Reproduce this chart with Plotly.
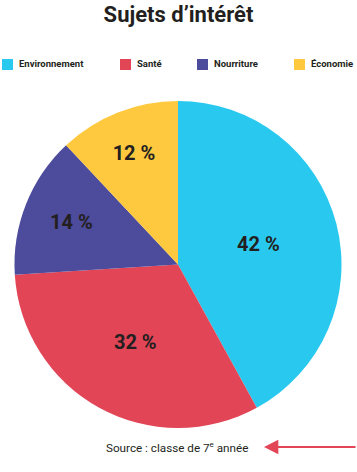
import plotly.graph_objects as go

categories = ["Environnement", "Santé", "Nourriture", "Économie"]
values = [42, 32, 14, 12]
colors = ["#29C9EF", "#E14556", "#4D4B9B", "#FFC93F"]
legend_x = [2, 120, 197, 294]

W, H = 357, 472

fig = go.Figure(go.Pie(
    labels=categories,
    values=values,
    sort=False,
    direction="clockwise",
    rotation=0,
    marker=dict(colors=colors, line=dict(width=0)),
    texttemplate="%{value} %",
    textposition="inside",
    insidetextorientation="horizontal",
    textfont=dict(family="Roboto", size=20, color="#231F20", weight="bold"),
    hoverinfo="label+value",
    showlegend=False,
    domain=dict(x=[14 / W, 342 / W], y=[44 / H, 371 / H]),
))

shapes = []
annotations = []
for cat, col, lx in zip(categories, colors, legend_x):
    shapes.append(dict(type="rect", xref="paper", yref="paper",
                       x0=lx / W, x1=(lx + 11) / W,
                       y0=(H - 70) / H, y1=(H - 59) / H,
                       fillcolor=col, line=dict(width=0)))
    annotations.append(dict(text=cat, xref="paper", yref="paper",
                            x=(lx + 15) / W, y=(H - 64) / H,
                            xanchor="left", yanchor="middle", showarrow=False,
                            font=dict(family="Roboto", size=9.5, color="#231F20", weight="bold")))

annotations.append(dict(text="Source : classe de 7<sup><span style='font-size:8px'>e</span></sup> année",
                        xref="paper", yref="paper",
                        x=177 / W, y=(H - 447) / H, xanchor="center", yanchor="middle",
                        showarrow=False,
                        font=dict(family="Roboto", size=11.7, color="#231F20")))
annotations.append(dict(text="", xref="paper", yref="paper", axref="pixel", ayref="pixel",
                        x=264 / W, y=(H - 447) / H, ax=95, ay=0,
                        showarrow=True, arrowhead=2, arrowsize=1.3, arrowwidth=2.2,
                        arrowcolor="#E14556"))

fig.update_layout(
    width=W, height=H,
    margin=dict(l=0, r=0, t=0, b=0),
    paper_bgcolor="white",
    title=dict(text="<b>Sujets d’intérêt</b>", x=0.5, xanchor="center",
               y=(H - 14) / H, yanchor="middle",
               font=dict(family="Roboto", size=22, color="#231F20")),
    shapes=shapes,
    annotations=annotations,
)

fig.write_html("out.html", config={"displayModeBar": False},
               post_script="document.body.style.margin='0';")
